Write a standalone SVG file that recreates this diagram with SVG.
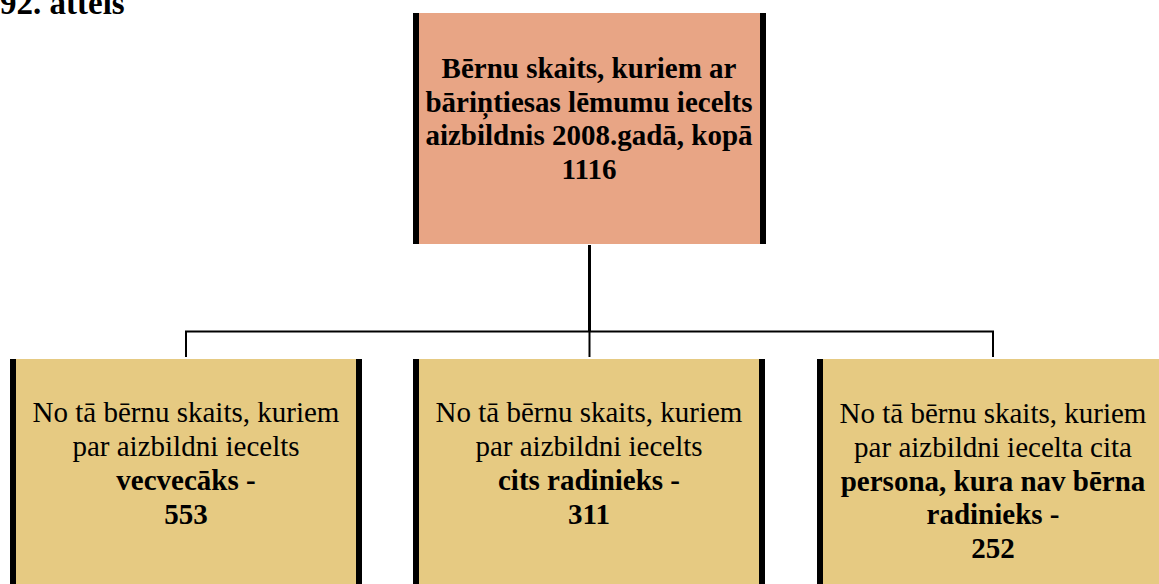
<svg xmlns="http://www.w3.org/2000/svg" width="1159" height="584" viewBox="0 0 1159 584">
<style>
.t{font-family:"Liberation Serif","Times New Roman",serif;font-size:29px;fill:#000;text-anchor:middle}
.b{font-weight:bold}
.bar{fill:#000}
.con{stroke:#000;fill:none}
</style>
<rect width="1159" height="584" fill="#fff"/>
<text x="0" y="14" font-family="Liberation Serif, serif" font-weight="bold" font-size="33">92. attēls</text>
<g id="top">
<rect x="413" y="13" width="353" height="231" fill="#E8A585"/>
<rect class="bar" x="413" y="13" width="6" height="231"/>
<rect class="bar" x="760" y="13" width="6" height="231"/>
<text class="t b" x="589" y="78">Bērnu skaits, kuriem ar</text>
<text class="t b" x="589" y="112">bāriņtiesas lēmumu iecelts</text>
<text class="t b" x="589" y="145">aizbildnis 2008.gadā, kopā</text>
<text class="t b" x="589" y="179">1116</text>
</g>
<g id="connectors">
<line class="con" x1="589.5" y1="245" x2="589.5" y2="332" stroke-width="3"/>
<line class="con" x1="185" y1="331.5" x2="994" y2="331.5" stroke-width="2"/>
<line class="con" x1="186" y1="331" x2="186" y2="357" stroke-width="2"/>
<line class="con" x1="589.5" y1="331" x2="589.5" y2="357" stroke-width="2"/>
<line class="con" x1="993" y1="331" x2="993" y2="357" stroke-width="2"/>
</g>
<g id="left">
<rect x="10" y="359" width="352" height="225" fill="#E6CA82"/>
<rect class="bar" x="10" y="359" width="6" height="225"/>
<rect class="bar" x="356" y="359" width="6" height="225"/>
<text class="t" x="186" y="422">No tā bērnu skaits, kuriem</text>
<text class="t" x="186" y="456">par aizbildni iecelts</text>
<text class="t b" x="186" y="490">vecvecāks -</text>
<text class="t b" x="186" y="524">553</text>
</g>
<g id="middle">
<rect x="413" y="359" width="352" height="225" fill="#E6CA82"/>
<rect class="bar" x="413" y="359" width="6" height="225"/>
<rect class="bar" x="759" y="359" width="6" height="225"/>
<text class="t" x="589" y="422">No tā bērnu skaits, kuriem</text>
<text class="t" x="589" y="456">par aizbildni iecelts</text>
<text class="t b" x="589" y="490">cits radinieks -</text>
<text class="t b" x="589" y="524">311</text>
</g>
<g id="right">
<rect x="817" y="359" width="352" height="225" fill="#E6CA82"/>
<rect class="bar" x="817" y="359" width="6" height="225"/>
<text class="t" x="993" y="423">No tā bērnu skaits, kuriem</text>
<text class="t" x="993" y="457">par aizbildni iecelta cita</text>
<text class="t b" x="993" y="491">persona, kura nav bērna</text>
<text class="t b" x="993" y="524">radinieks -</text>
<text class="t b" x="993" y="558">252</text>
</g>
</svg>
